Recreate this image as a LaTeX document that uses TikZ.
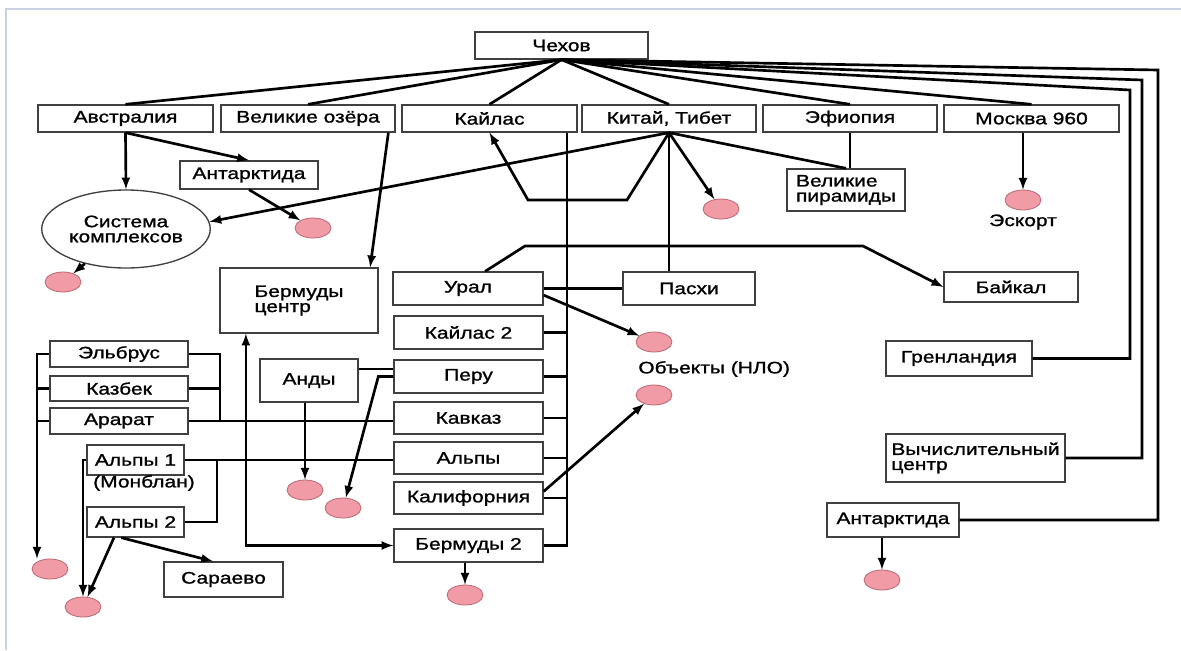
\documentclass[tikz,border=0pt]{standalone}
\usepackage{fontspec}
\setmainfont[FakeStretch=1.26, FakeBold=1.2]{Liberation Sans}
\usetikzlibrary{shapes.geometric}
\definecolor{dotpink}{RGB}{240,155,165}
\definecolor{dotedge}{RGB}{185,105,115}
\definecolor{framecol}{RGB}{200,210,228}
\tikzset{
  sz/.style 2 args={minimum width=#1*0.75pt, minimum height=#2*0.75pt},
  box/.style={draw=black!75, line width=1pt, rectangle, inner sep=2pt, font=\fontsize{12.5}{11.3}\selectfont},
  dot/.style={draw=dotedge, line width=.6pt, fill=dotpink, ellipse, minimum width=27pt, minimum height=15pt, inner sep=0pt},
  lbl/.style={inner sep=0pt, font=\fontsize{12.5}{11.3}\selectfont}
}
\begin{document}
\begin{tikzpicture}[>=latex, x=0.75pt, y=-0.75pt, line width=2pt]
\useasboundingbox (0,0) rectangle (1181,650);
\draw[framecol, line width=2.2pt] (6,650) -- (6,9) -- (1181,9);

% top row
\node[box, sz={173}{27}] (chekhov) at (561.5,45.5) {Чехов};
\node[box, sz={175}{27}] (avstr) at (125.5,118.5) {Австралия};
\node[box, sz={174}{27}] (ozera) at (308,118.5) {Великие озёра};
\node[box, sz={175}{27}] (kailas) at (489.5,118.5) {Кайлас};
\node[box, sz={174}{27}] (kitai) at (669,118.5) {Китай, Тибет};
\node[box, sz={174}{27}] (efiop) at (850,118.5) {Эфиопия};
\node[box, sz={175}{27}] (moskva) at (1031.5,118.5) {Москва 960};

\node[box, sz={138}{28}] (antarkt) at (249,175) {Антарктида};
\node[box, ellipse, sz={162}{78}, align=center] (sistema) at (126,229) {Система\\комплексов};
\node[box, sz={118}{42}, align=left] (piramid) at (846,190) {Великие\\пирамиды};
\node[box, sz={158}{65}, align=left] (bermc) at (299,300.5) {Бермуды\\центр};

% middle column
\node[box, sz={150}{33}] (ural) at (468,288.5) {Урал};
\node[box, sz={132}{33}] (pasxi) at (689,288.5) {Пасхи};
\node[box, sz={134}{30}] (baikal) at (1011,287) {Байкал};
\node[box, sz={149}{33}] (kailas2) at (468.5,332.5) {Кайлас 2};
\node[box, sz={149}{33}] (peru) at (468.5,376.5) {Перу};
\node[box, sz={149}{32}] (kavkaz) at (468.5,418) {Кавказ};
\node[box, sz={149}{32}] (alpy) at (468.5,458) {Альпы};
\node[box, sz={149}{32}] (kalif) at (468.5,498) {Калифорния};
\node[box, sz={149}{33}] (berm2) at (468.5,545.5) {Бермуды 2};

% right side
\node[box, sz={146}{35}] (grenl) at (959,358.5) {Гренландия};
\node[box, sz={179}{48}, align=left] (vych) at (975.5,458) {Вычислительный\\центр};
\node[box, sz={132}{34}] (antarkt2) at (893,520) {Антарктида};

% left side
\node[box, sz={138}{26}] (elbrus) at (119,354) {Эльбрус};
\node[box, sz={138}{25}] (kazbek) at (119,388.5) {Казбек};
\node[box, sz={138}{26}] (ararat) at (119,421) {Арарат};
\node[box, sz={98}{43}] (andy) at (309,380.5) {Анды};
\node[box, sz={97}{30}] (alpy1) at (135.5,460) {Альпы 1};
\node[lbl] (monblan) at (144,483) {(Монблан)};
\node[box, sz={97}{30}] (alpy2) at (135.5,522) {Альпы 2};
\node[box, sz={119}{35}] (saraevo) at (223.5,579.5) {Сараево};

% dots
\node[dot] (p1) at (313,228) {};
\node[dot] (p2) at (63,282) {};
\node[dot] (p3) at (721,209) {};
\node[dot] (p4) at (1023,200) {};
\node[lbl] (eskort) at (1023,222) {Эскорт};
\node[dot] (p5) at (654,342) {};
\node[lbl, anchor=west] (nlo) at (637,369) {Объекты (НЛО)};
\node[dot] (p6) at (654,395) {};
\node[dot] (p7) at (465,595) {};
\node[dot] (p8) at (882,580) {};
\node[dot] (p9) at (50,569) {};
\node[dot] (p10) at (83,607) {};
\node[dot] (p11) at (305,490) {};
\node[dot] (p12) at (343,508) {};

\coordinate (ba) at (1130,90);
\coordinate (bb) at (1142,80);
\coordinate (bc) at (1158,70);
\coordinate (k1) at (627,200);
\coordinate (k2) at (528,200);
\coordinate (u1) at (525,246);
\coordinate (u2) at (863,246);
\coordinate (bus) at (567,0);
\coordinate (lb) at (37,0);
\coordinate (rb) at (220,0);
\coordinate (ab) at (217,0);

\foreach \n in {avstr,ozera,kailas,kitai,efiop,moskva}
  \draw (chekhov.south) -- (\n.north);
\draw (chekhov.south) -- (ba) |- (grenl.east);
\draw (chekhov.south) -- (bb) |- (vych.east);
\draw (chekhov.south) -- (bc) |- (antarkt2.east);

\draw [->] (avstr.south) -- (sistema.north);
\draw [->] (avstr.south) -- (antarkt.north);
\draw [->] (antarkt.south) -- (p1);
\draw [->] (sistema) -- (p2);
\draw [->] (ozera.-10) -- (bermc.25);
\draw [->] (kitai.south) -- (sistema.5);
\draw [->] (kitai.south) -- (k1) -- (k2) -- (kailas.south);
\draw [->] (kitai.south) -- (p3);
\draw (kitai.south) -- (kitai.south |- pasxi.north);
\draw (kitai.south) -- (piramid.north);
\draw (efiop.south) -- (efiop.south |- piramid.north);
\draw [->] (p4 |- moskva.south) -- (p4);

\draw [->] (ural.45) -- (u1) -- (u2) -- (baikal.west);
\draw (ural.east) -- (pasxi.west);
\draw [->] (ural.-5) -- (p5);
\draw (bus |- kailas.south) -- (bus |- berm2.east) -- (berm2.east);
\foreach \n in {kailas2,peru,kavkaz,alpy,kalif}
  \draw (\n.east) -- (\n.east -| bus);
\draw [->] (kalif.5) -- (p6);
\draw [->] (p7 |- berm2.south) -- (p7);
\draw [<->] (bermc.-148) |- (berm2.west);

\draw (andy.13) -- (andy.13 -| peru.west);
\draw [->] (peru.west) -- ++(-15,0) -- (p12);
\draw [->] (p11 |- andy.south) -- (p11);

\draw [->] (elbrus.west) -- (elbrus.west -| lb) -- (lb |- p9.north);
\draw (kazbek.west) -- (kazbek.west -| lb);
\draw (ararat.west) -- (ararat.west -| lb);
\draw (elbrus.east) -| (rb |- ararat.east);
\draw (kazbek.east) -- (kazbek.east -| rb);
\draw (ararat.east) -- (ararat.east -| kavkaz.west);

\draw (alpy1.east) -- (alpy1.east -| alpy.west);
\draw (alpy2.east) -| (ab |- alpy1.east);
\draw [->] (alpy1.west) -| (p10.north);
\draw [->] (alpy2.-144) -- (p10);
\draw [->] (alpy2.-132) -- (saraevo.120);

\draw [->] (p8 |- antarkt2.south) -- (p8);
\end{tikzpicture}
\end{document}
